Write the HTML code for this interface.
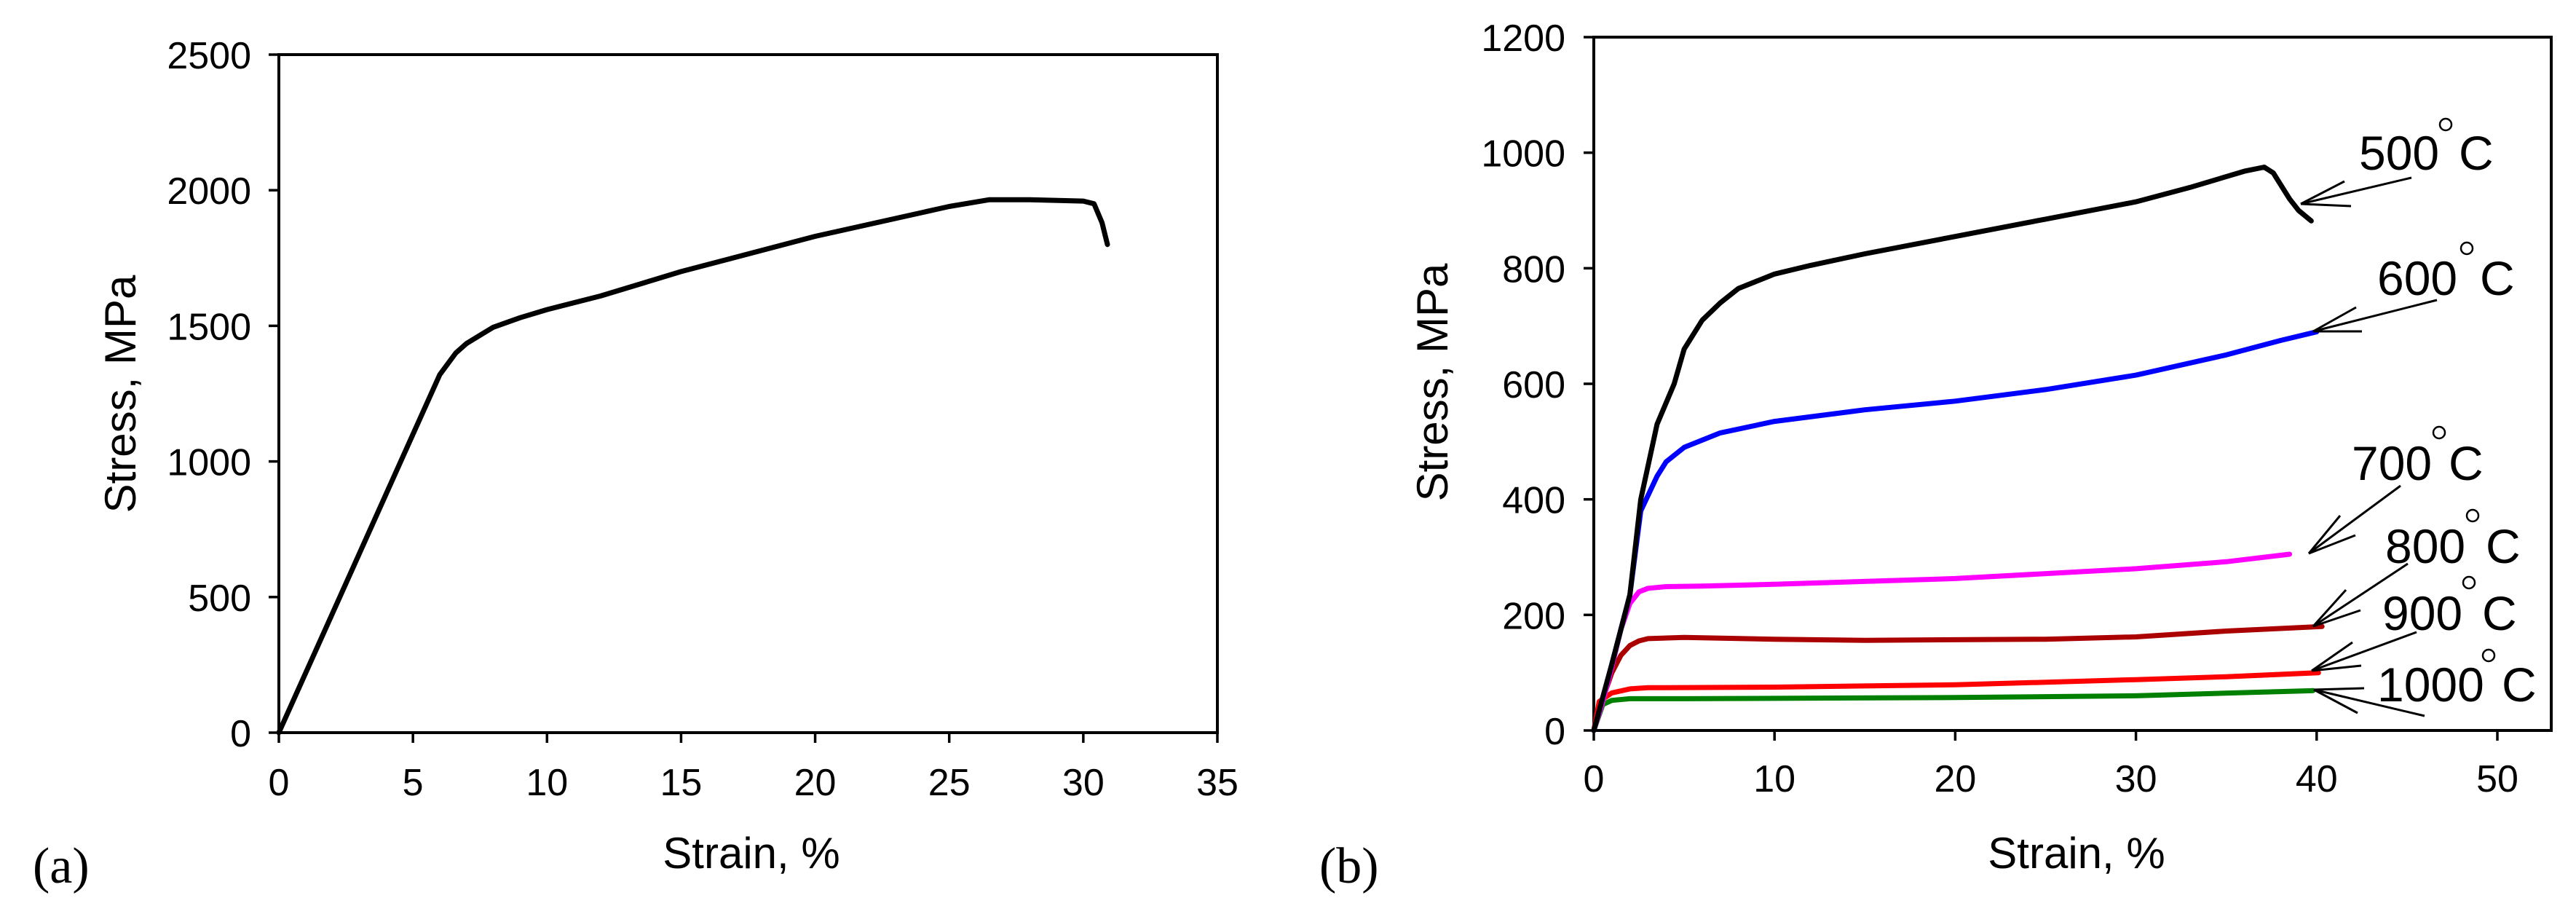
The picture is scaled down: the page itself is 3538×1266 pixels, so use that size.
<!DOCTYPE html>
<html><head><meta charset="utf-8"><style>
html,body{margin:0;padding:0;background:#fff;}
svg{display:block;font-family:"Liberation Sans",sans-serif;}
</style></head><body>
<svg id="fig" width="3538" height="1266" viewBox="0 0 3538 1266" xmlns="http://www.w3.org/2000/svg">
<g id="chartA"></g>
<g id="chartB"></g>
<text x="45" y="1212" font-family="Liberation Serif, serif" font-size="70">(a)</text>
<text x="1812" y="1212" font-family="Liberation Serif, serif" font-size="70">(b)</text>
</svg>
<script>
// Chart A data
const aXTicks = [0,5,10,15,20,25,30,35];
const aYTicks = [0,500,1000,1500,2000,2500];
const aStrain = [0,1,2,3,4,5,6,6.6,7,7.5,8,9,10,12,15,20,25,26.5,28,30,30.4,30.7,30.9];
const aStress = [0,220,440,660,880,1100,1320,1400,1435,1465,1495,1530,1560,1610,1700,1830,1940,1965,1965,1960,1950,1880,1800];

// Chart B data
const bXTicks = [0,10,20,30,40,50];
const bYTicks = [0,200,400,600,800,1000,1200];
const s500x = [0,1,2,2.6,3.5,4.45,5,6,7,8,10,12,15,20,25,30,33,36,37.1,37.6,38.5,39,39.7];
const s500y = [0,115,235,400,530,600,660,710,740,765,790,805,825,855,885,915,940,968,975,965,920,900,882];
const s600x = [0,1,2,2.6,3.5,4,5,7,10,15,20,25,30,35,38,40];
const s600y = [0,115,235,380,440,465,490,515,535,555,570,590,615,650,675,690];
const s700x = [0,0.5,1,1.5,2,2.5,3,4,6,10,20,30,35,38.5];
const s700y = [0,50,110,175,220,240,246,249,250,253,263,280,292,305];
const s800x = [0,0.5,1,1.5,2,2.5,3,5,10,15,20,25,30,35,40.3];
const s800y = [0,55,100,130,147,155,159,161,158,156,157,158,162,172,180];
const s900x = [0,0.3,1,2,3,10,20,30,35,40.1];
const s900y = [0,50,65,72,74,75,79,88,93,100];
const s1000x = [0,0.5,1,2,5,20,30,39.8];
const s1000y = [0,45,52,55,55,57,60,69];
const seriesNames = ["500C","600C","700C","800C","900C","1000C"];
const labelTemps = ["500","600","700","800","900","1000"];

const NS="http://www.w3.org/2000/svg";
function mk(tag, attrs, parent){const e=document.createElementNS(NS,tag);for(const k in attrs)e.setAttribute(k,attrs[k]);parent.appendChild(e);return e;}

function drawAxes(g, L, R, T, B, xs, ys, xTicks, yTicks, yLblX, xLblY, ytitle, xtitle){
  const frame=mk('rect',{x:L,y:T,width:R-L,height:B-T,fill:'none',stroke:'#000','stroke-width':4},g);
  
  
  xTicks.forEach(v=>{
    const t=mk('line',{x1:xs(v),x2:xs(v),y1:B,y2:B+14,stroke:'#000','stroke-width':3.5},g);
    
    
    const l=mk('text',{x:xs(v),y:xLblY,'text-anchor':'middle','font-size':52},g);
    l.textContent=v;
    
    
  });
  yTicks.forEach(v=>{
    const t=mk('line',{x1:L-14,x2:L,y1:ys(v),y2:ys(v),stroke:'#000','stroke-width':3.5},g);
    
    
    const l=mk('text',{x:yLblX,y:ys(v)+19,'text-anchor':'end','font-size':52},g);
    l.textContent=v;
    
    
  });
  const yt=mk('text',{x:0,y:0,'text-anchor':'middle','font-size':60,transform:`translate(${ytitle[0]},${ytitle[1]}) rotate(-90)`},g);
  yt.textContent='Stress, MPa';
  
  
  const xt=mk('text',{x:xtitle[0],y:xtitle[1],'text-anchor':'middle','font-size':60},g);
  xt.textContent='Strain, %';
  
  
}
function line(g, xs, ys, X, Y, color, name){
  const d=X.map((x,i)=>(i?'L':'M')+xs(x).toFixed(1)+','+ys(Y[i]).toFixed(1)).join(' ');
  const p=mk('path',{d:d,fill:'none',stroke:color,'stroke-width':7,'stroke-linejoin':'round','stroke-linecap':'round'},g);
  
  
}

// Chart A
(function(){
  const g=document.getElementById('chartA');
  const L=383,R=1672,T=75,B=1006;
  const xs=v=>L+(v/35)*(R-L), ys=v=>B-(v/2500)*(B-T);
  drawAxes(g,L,R,T,B,xs,ys,aXTicks,aYTicks,345,1092,[186,541],[1032,1192]);
  line(g,xs,ys,aStrain,aStress,'#000','stress-strain-curve');
})();

// Chart B
(function(){
  const g=document.getElementById('chartB');
  const L=2189,T=51,B=1003;
  const xs=v=>L+v*24.82, ys=v=>B-(v/1200)*(B-T);
  const R=3504;
  drawAxes(g,L,R,T,B,xs,ys,bXTicks,bYTicks,2150,1087,[1988,525],[2852,1192]);
  const X=[s500x,s600x,s700x,s800x,s900x,s1000x], Y=[s500y,s600y,s700y,s800y,s900y,s1000y];
  const cols=['#000','#0000ff','#ff00ff','#aa0000','#ff0000','#008000'];
  [5,4,3,2,1,0].forEach(i=>line(g,xs,ys,X[i],Y[i],cols[i],'curve-'+seriesNames[i]));
  // labels: [textX, baseline, degX, degY, Cx]
  const lab=[[3240,233,3359,171,3377],[3265,405,3388,341,3406],[3230,659,3350,594,3363],[3276,773,3396,708,3414],[3272,865,3391,800,3409],[3265,963,3418,900,3436]];
  const arr=[[[3312,244],[3160,280],[3220,249],[3229,283]],
             [[3347,412],[3177,455],[3236,422],[3244,455]],
             [[3297,667],[3171,760],[3214,708],[3235,735]],
             [[3307,774],[3177,860],[3222,810],[3242,838]],
             [[3319,868],[3175,921],[3231,882],[3243,914]],
             [[3330,983],[3178,947],[3247,945],[3238,979]]];
  lab.forEach((a,i)=>{
    const lg=mk('g',{},g);
    
    
    const t=mk('text',{x:a[0],y:a[1],'font-size':66},lg); t.textContent=labelTemps[i];
    mk('circle',{cx:a[2],cy:a[3],r:8,fill:'none',stroke:'#000','stroke-width':2.5},lg);
    const c=mk('text',{x:a[4],y:a[1],'font-size':66},lg); c.textContent='C';
    const w=arr[i];
    const ag=mk('g',{stroke:'#000','stroke-width':3},g);
    
    
    mk('line',{x1:w[0][0],y1:w[0][1],x2:w[1][0],y2:w[1][1]},ag);
    mk('line',{x1:w[2][0],y1:w[2][1],x2:w[1][0],y2:w[1][1]},ag);
    mk('line',{x1:w[3][0],y1:w[3][1],x2:w[1][0],y2:w[1][1]},ag);
  });
})();
</script>
</body></html>
